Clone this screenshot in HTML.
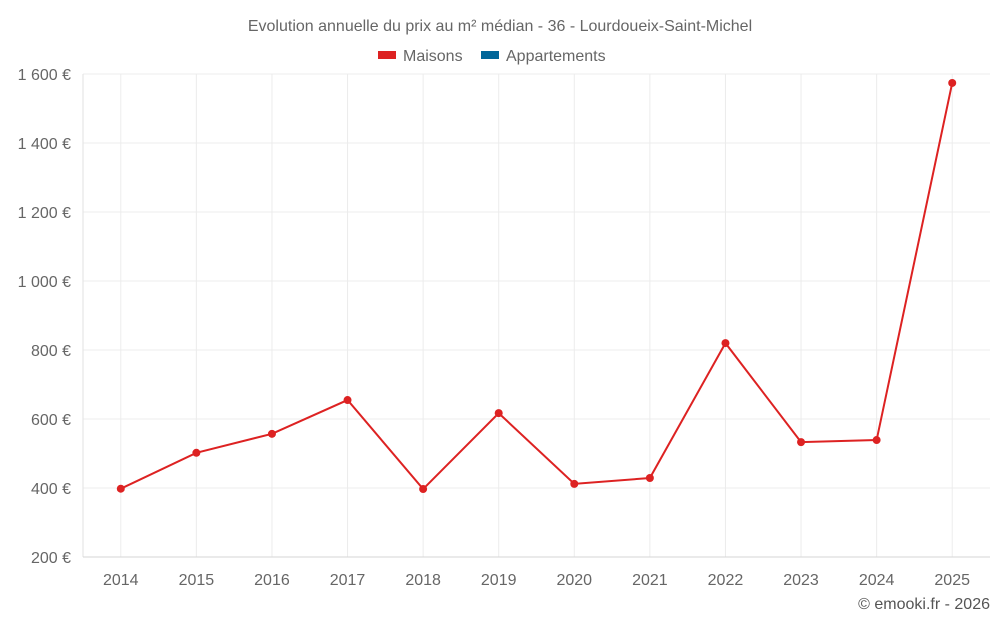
<!DOCTYPE html>
<html><head><meta charset="utf-8"><style>
body{margin:0;background:#fff;font-family:"Liberation Sans",sans-serif;}
svg text{font-family:"Liberation Sans",sans-serif;}
</style></head><body>
<svg id="c" width="1000" height="625">
<text x="500" y="31" text-anchor="middle" font-size="16" fill="#666">Evolution annuelle du prix au m² médian - 36 - Lourdoueix-Saint-Michel</text>
<g>
<g><rect x="378" y="51" width="18" height="8" fill="#dd2222"/><text x="403" y="61" font-size="16" fill="#666">Maisons</text></g>
<g><rect x="481" y="51" width="18" height="8" fill="#006699"/><text x="506" y="61" font-size="16" fill="#666">Appartements</text></g>
</g>
<g id="grid"></g><g id="axes"></g><g id="series"></g>
<text x="990" y="609" text-anchor="end" font-size="16" fill="#555">© emooki.fr - 2026</text>
</svg>
<script>
const categories=["2014","2015","2016","2017","2018","2019","2020","2021","2022","2023","2024","2025"];
const maisons=[398,502,557,655,397,617,412,429,820,533,539,1574];
const yTicks=[200,400,600,800,1000,1200,1400,1600];
const yTickLabels=["200 €","400 €","600 €","800 €","1 000 €","1 200 €","1 400 €","1 600 €"];
const L=83,R=990,T=74,B=557,yMin=200,yMax=1600;
const band=(R-L)/categories.length;
const x=i=>L+band*(i+0.5);
const y=v=>B-(v-yMin)/(yMax-yMin)*(B-T);
const NS="http://www.w3.org/2000/svg";
function mk(p,t,a){const e=document.createElementNS(NS,t);for(const k in a)e.setAttribute(k,a[k]);p.appendChild(e);return e;}
const g=document.getElementById('grid'),ax=document.getElementById('axes'),s=document.getElementById('series');
yTicks.forEach((v,i)=>{
 if(i>0){const l=mk(g,'line',{x1:L,x2:R,y1:y(v),y2:y(v),stroke:'#ececec'});
 
 }
 const t=mk(ax,'text',{x:71,y:y(v)+6,'text-anchor':'end','font-size':16,fill:'#666'});t.textContent=yTickLabels[i];
 
 
});
categories.forEach((c,i)=>{
 const l=mk(g,'line',{x1:x(i),x2:x(i),y1:T,y2:B,stroke:'#ececec'});
 
 
 const t=mk(ax,'text',{x:x(i),y:585,'text-anchor':'middle','font-size':16,fill:'#666'});t.textContent=c;
 
 
});
const ya=mk(ax,'line',{x1:L,x2:L,y1:T,y2:B,stroke:'#e2e2e2'});


const xa=mk(ax,'line',{x1:L,x2:R,y1:B,y2:B,stroke:'#d6d6d6'});


const pl=mk(s,'polyline',{points:maisons.map((v,i)=>x(i)+','+y(v)).join(' '),fill:'none',stroke:'#dd2222','stroke-width':2});


maisons.forEach((v,i)=>{const c=mk(s,'circle',{cx:x(i),cy:y(v),r:4,fill:'#dd2222'});
 
 });
</script>
</body></html>
